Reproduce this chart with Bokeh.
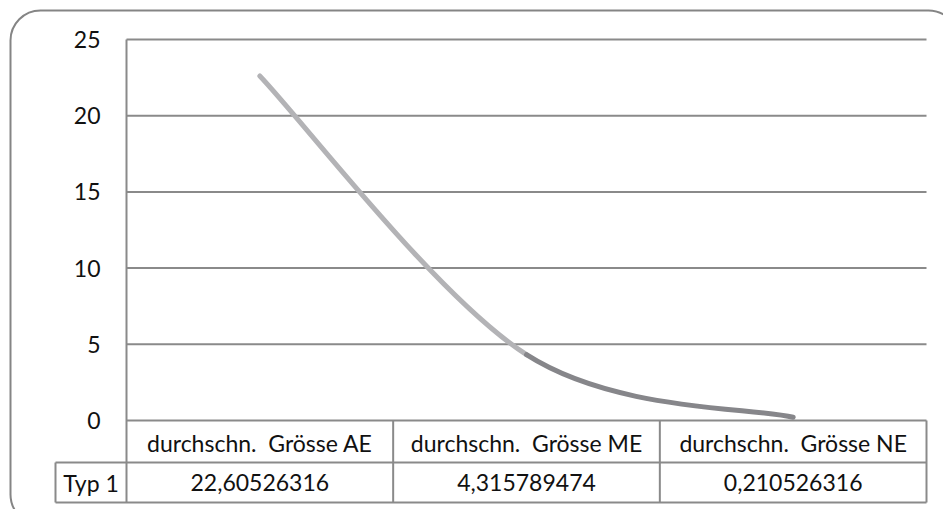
from bokeh.plotting import figure
from bokeh.models import Range1d, ColumnDataSource, BoxAnnotation
from bokeh.core.properties import value
from bokeh.embed import file_html
from bokeh.resources import INLINE

# --- data -------------------------------------------------------------
categories = ["durchschn.\u00a0 Grösse AE", "durchschn.\u00a0 Grösse ME", "durchschn.\u00a0 Grösse NE"]
series_name = "Typ 1"
values = [22.60526316, 4.315789474, 0.210526316]
value_labels = ["22,60526316", "4,315789474", "0,210526316"]
y_ticks = [0, 5, 10, 15, 20, 25]
segment_colors = ["#b3b3b6", "#86868a"]

# --- layout (pixels) --------------------------------------------------
W, H = 943, 509
PLOT_L, PLOT_R = 126, 926      # plot area / table columns
PLOT_T, PLOT_B = 39, 420       # y = 25 and y = 0
ROW1_B, ROW2_B = 462, 502      # table row bottoms
ROWHEAD_L = 55                 # left edge of the series-name cell
FONT = value("Lato")
FS = "23px"
TICK_FS = "23px"
GRID = "#8a8a8a"
TEXT = "#111111"

ncat = len(categories)
ymax = y_ticks[-1]
col_px = (PLOT_R - PLOT_L) / ncat
ypx = (PLOT_B - PLOT_T) / ymax

x_range = Range1d(-PLOT_L / col_px, ncat + (W - PLOT_R) / col_px)
y_range = Range1d(-(H - PLOT_B) / ypx, ymax + PLOT_T / ypx)

p = figure(width=W, height=H, x_range=x_range, y_range=y_range,
           x_axis_location=None, y_axis_location=None,
           toolbar_location=None, output_backend="svg",
           min_border=0, outline_line_color=None,
           background_fill_color="white", border_fill_color="white")
p.xgrid.visible = False
p.ygrid.visible = False
# pixel-space helper ranges for the frame decorations and table
p.extra_x_ranges = {"px": Range1d(0, W)}
p.extra_y_ranges = {"px": Range1d(H, 0)}

# rounded chart border
p.add_layout(BoxAnnotation(left=10, right=958, top=10, bottom=524,
                           x_range_name="px", y_range_name="px",
                           fill_alpha=0, line_color="#858585", line_alpha=1,
                           line_width=2, border_radius=30))

# horizontal gridlines across the category span
p.segment(x0=[0] * len(y_ticks), x1=[ncat] * len(y_ticks), y0=y_ticks, y1=y_ticks,
          line_color=GRID, line_width=2)

# y tick labels
p.text(x=[PLOT_L - 26] * len(y_ticks), y=y_ticks, text=[str(t) for t in y_ticks],
       x_range_name="px", text_align="right", text_baseline="middle",
       text_font=FONT, text_font_size=TICK_FS, text_color=TEXT)

# table: vertical rules
p.segment(x0=[PLOT_L], x1=[PLOT_L], y0=[PLOT_T], y1=[ROW2_B],
          x_range_name="px", y_range_name="px", line_color=GRID, line_width=2)
col_edges = [PLOT_L + col_px * (i + 1) for i in range(ncat)]
p.segment(x0=col_edges, x1=col_edges, y0=[PLOT_B] * ncat, y1=[ROW2_B] * ncat,
          x_range_name="px", y_range_name="px", line_color=GRID, line_width=2)
p.segment(x0=[ROWHEAD_L], x1=[ROWHEAD_L], y0=[ROW1_B], y1=[ROW2_B],
          x_range_name="px", y_range_name="px", line_color=GRID, line_width=2)
# table: horizontal rules
p.segment(x0=[ROWHEAD_L, ROWHEAD_L], x1=[PLOT_R, PLOT_R], y0=[ROW1_B, ROW2_B], y1=[ROW1_B, ROW2_B],
          x_range_name="px", y_range_name="px", line_color=GRID, line_width=2)

# table: texts
cat_x = [i + 0.5 for i in range(ncat)]
p.text(x=cat_x, y=[(PLOT_B + ROW1_B) / 2 + 1] * ncat, text=categories, y_range_name="px",
       text_align="center", text_baseline="middle",
       text_font=FONT, text_font_size=FS, text_color=TEXT)
p.text(x=cat_x, y=[(ROW1_B + ROW2_B) / 2] * ncat, text=value_labels, y_range_name="px",
       text_align="center", text_baseline="middle",
       text_font=FONT, text_font_size=FS, text_color=TEXT)
p.text(x=[(ROWHEAD_L + PLOT_L) / 2], y=[(ROW1_B + ROW2_B) / 2], text=[series_name],
       x_range_name="px", y_range_name="px",
       text_align="center", text_baseline="middle",
       text_font=FONT, text_font_size=FS, text_color=TEXT)

# smoothed line: cubic Bezier segments between category centres
pts = list(zip(cat_x, values))
seg = dict(x0=[], y0=[], x1=[], y1=[], cx0=[], cy0=[], cx1=[], cy1=[], color=[])
for i in range(len(pts) - 1):
    pm = pts[max(i - 1, 0)]
    p0 = pts[i]
    p1 = pts[i + 1]
    pn = pts[min(i + 2, len(pts) - 1)]
    seg["x0"].append(p0[0]); seg["y0"].append(p0[1])
    seg["x1"].append(p1[0]); seg["y1"].append(p1[1])
    seg["cx0"].append(p0[0] + (p1[0] - pm[0]) / 6)
    seg["cy0"].append(p0[1] + (p1[1] - pm[1]) / 6)
    seg["cx1"].append(p1[0] - (pn[0] - p0[0]) / 6)
    seg["cy1"].append(p1[1] - (pn[1] - p0[1]) / 6)
    seg["color"].append(segment_colors[i % len(segment_colors)])
p.bezier(x0="x0", y0="y0", x1="x1", y1="y1", cx0="cx0", cy0="cy0", cx1="cx1", cy1="cy1",
         source=ColumnDataSource(seg), line_color="color", line_width=5, line_cap="round")

open("out.html", "w").write(file_html(p, INLINE))
